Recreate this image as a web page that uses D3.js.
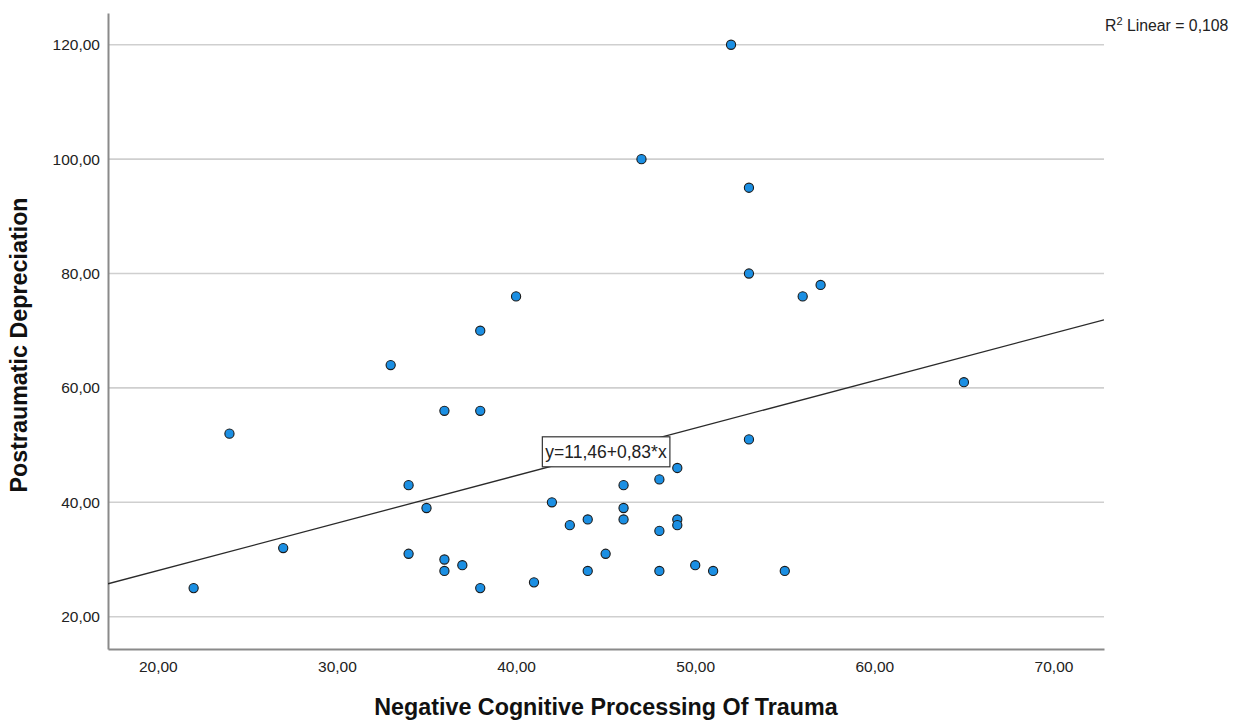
<!DOCTYPE html>
<html>
<head>
<meta charset="utf-8">
<script src="https://cdn.jsdelivr.net/npm/d3@7"></script>
<style>
  body { margin: 0; background: #fff; }
  text { font-family: 'Liberation Sans', Arial, sans-serif; fill: #222; }
  .tick-label { font-size: 15.5px; }
  .axis-title { font-size: 23.3px; font-weight: bold; fill: #111; }
</style>
</head>
<body>
<div id="chart"></div>
<script>

// scatter data (Negative Cognitive Processing Of Trauma vs Postraumatic Depreciation)
var ncpt = [22, 24, 27, 33, 34, 34, 35, 36, 36, 36, 37, 38, 38, 38, 40, 41, 42, 43, 44, 44, 45,
  46, 46, 46, 47, 48, 48, 48, 49, 49, 49, 50, 51, 52, 53, 53, 53, 55, 56, 57, 65];
var ptd = [25, 52, 32, 64, 43, 31, 39, 56, 30, 28, 29, 70, 56, 25, 76, 26, 40, 36, 37, 28, 31,
  43, 39, 37, 100, 44, 35, 28, 46, 37, 36, 29, 28, 120, 95, 80, 51, 28, 76, 78, 61];

var xTicks = [20, 30, 40, 50, 60, 70];
var yTicks = [20, 40, 60, 80, 100, 120];

// fit line and R squared as printed by SPSS
var intercept = 11.46;
var slope = 0.83;
var fitLabel = 'y=11,46+0,83*x';
var r2Value = '0,108';

var width = 1233;
var height = 721;
var margin = {top: 13, right: 129, bottom: 72, left: 108};

var svg = d3.select('#chart').append('svg')
  .attr('width', width)
  .attr('height', height);

var xScale = d3.scaleLinear()
  .domain([17.22, 72.82])
  .range([margin.left, width - margin.right]);

var yScale = d3.scaleLinear()
  .domain([14.35, 125.55])
  .range([height - margin.bottom, margin.top]);

var comma = d3.formatLocale({decimal: ',', thousands: '.', grouping: [3], currency: ['', '']}).format('.2f');

// gridlines
svg.append('g')
  .selectAll('line')
  .data(yTicks)
  .enter()
  .append('line')
  .attr('x1', margin.left)
  .attr('x2', width - margin.right)
  .attr('y1', function(d) { return yScale(d); })
  .attr('y2', function(d) { return yScale(d); })
  .attr('stroke', '#cfcfcf')
  .attr('stroke-width', 1.6);

// axes
var xAxis = d3.axisBottom(xScale).tickValues(xTicks).tickFormat(comma).tickSize(0).tickPadding(12);
var yAxis = d3.axisLeft(yScale).tickValues(yTicks).tickFormat(comma).tickSize(0).tickPadding(8);

var gx = svg.append('g')
  .attr('transform', 'translate(0,' + (height - margin.bottom) + ')')
  .call(xAxis);

var gy = svg.append('g')
  .attr('transform', 'translate(' + margin.left + ',0)')
  .call(yAxis);

[gx, gy].forEach(function(g) {
  g.select('.domain').attr('stroke', '#8a8a8a').attr('stroke-width', 2);
  g.selectAll('text').attr('class', 'tick-label').attr('font-family', null).attr('font-size', null);
});

// regression line
svg.append('clipPath')
  .attr('id', 'plot-clip')
  .append('rect')
  .attr('x', margin.left)
  .attr('y', margin.top)
  .attr('width', width - margin.left - margin.right)
  .attr('height', height - margin.top - margin.bottom);

var xd = xScale.domain();
svg.append('line')
  .attr('clip-path', 'url(#plot-clip)')
  .attr('x1', xScale(xd[0]))
  .attr('y1', yScale(intercept + slope * xd[0]))
  .attr('x2', xScale(xd[1]))
  .attr('y2', yScale(intercept + slope * xd[1]))
  .attr('stroke', '#2a2a2a')
  .attr('stroke-width', 1.3);

// points
svg.append('g')
  .selectAll('circle')
  .data(ncpt)
  .enter()
  .append('circle')
  .attr('cx', function(d) { return xScale(d); })
  .attr('cy', function(d, i) { return yScale(ptd[i]); })
  .attr('r', 4.6)
  .attr('fill', '#1b8fe3')
  .attr('stroke', '#1a1a1a')
  .attr('stroke-width', 1.1);

// fit label box, centred on the line at the middle of the x range
var midX = (xd[0] + xd[1]) / 2;
var label = svg.append('g')
  .attr('transform', 'translate(' + xScale(midX) + ',' + yScale(intercept + slope * midX) + ')');

var labelText = label.append('text')
  .attr('text-anchor', 'middle')
  .attr('dy', '0.36em')
  .style('font-size', '17.5px')
  .text(fitLabel);

var bb = labelText.node().getBBox();
label.insert('rect', 'text')
  .attr('x', bb.x - 3)
  .attr('y', -15)
  .attr('width', bb.width + 6)
  .attr('height', 30)
  .attr('fill', '#fff')
  .attr('stroke', '#333')
  .attr('stroke-width', 1.2);

// R squared note, top right
var r2 = svg.append('text')
  .attr('x', width - margin.right + 1)
  .attr('y', 31)
  .style('font-size', '15.8px');
r2.append('tspan').text('R');
r2.append('tspan').attr('dy', -6).style('font-size', '11px').text('2');
r2.append('tspan').attr('dy', 6).text(' Linear = ' + r2Value);

// axis titles
svg.append('text')
  .attr('class', 'axis-title')
  .attr('text-anchor', 'middle')
  .attr('x', (margin.left + width - margin.right) / 2)
  .attr('y', 715)
  .text('Negative Cognitive Processing Of Trauma');

svg.append('text')
  .attr('class', 'axis-title')
  .attr('text-anchor', 'middle')
  .attr('transform', 'translate(27,' + 345 + ') rotate(-90)')
  .text('Postraumatic Depreciation');

</script>
</body>
</html>
